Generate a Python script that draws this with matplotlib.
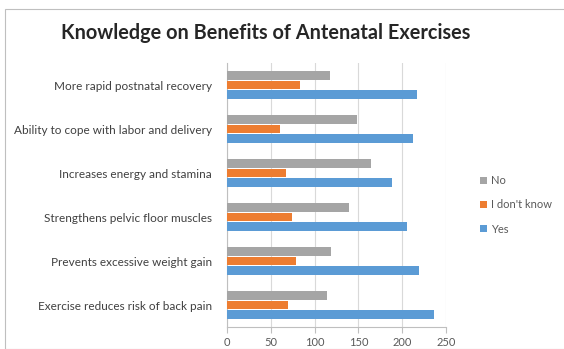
import matplotlib
matplotlib.use("Agg")
import matplotlib.pyplot as plt
import numpy as np
from matplotlib.patches import Rectangle

categories = [
    "Exercise reduces risk of back pain",
    "Prevents excessive weight gain",
    "Strengthens pelvic floor muscles",
    "Increases energy and stamina",
    "Ability to cope with labor and delivery",
    "More rapid postnatal recovery",
]
yes_vals = [236, 219, 205, 188, 212, 217]
idk_vals = [70, 79, 74, 67, 60, 83]
no_vals = [114, 119, 139, 164, 148, 118]
series_names = ["Yes", "I don't know", "No"]
colors = ["#5B9BD5", "#ED7D31", "#A5A5A5"]
xticks = [0, 50, 100, 150, 200, 250]

plt.rcParams['font.family'] = ['Lato', 'DejaVu Sans']

fig = plt.figure(figsize=(5.64, 3.49), dpi=100)
ax = fig.add_axes([227/564, 1 - 327/349, (446 - 227)/564, 264/349])

y = np.arange(len(categories))
h = 0.2
off = 0.215
bars = []
for i, (vals, name, c) in enumerate(zip([yes_vals, idk_vals, no_vals], series_names, colors)):
    b = ax.barh(y + (i - 1) * off, vals, height=h, color=c, label=name, zorder=3)
    bars.append(b)

ax.set_xlim(0, 250)
ax.set_ylim(-0.5, len(categories) - 0.5)
ax.set_xticks(xticks)
ax.set_xticklabels([str(t) for t in xticks], fontsize=8, color="#595959")
ax.set_yticks(y)
ax.set_yticklabels(categories, fontsize=8.5, color="#404040")
ax.tick_params(axis='y', length=0, pad=11)
ax.tick_params(axis='x', length=4, color="#BFBFBF", pad=3)
ax.grid(axis='x', color="#D9D9D9", linewidth=0.8, zorder=0)
for s in ["top", "right"]:
    ax.spines[s].set_visible(False)
ax.spines["left"].set_color("#BFBFBF")
ax.spines["bottom"].set_color("#BFBFBF")
ax.spines["left"].set_linewidth(0.8)
ax.spines["bottom"].set_linewidth(0.8)

handles = [bars[2], bars[1], bars[0]]
labels = ["No", "I don't know", "Yes"]
leg = fig.legend(handles, labels, loc="center left", bbox_to_anchor=(470/564, 1 - 205/349),
                 frameon=False, fontsize=8, handlelength=0.6, handleheight=0.6,
                 labelspacing=1.2, handletextpad=0.4, labelcolor="#595959")

fig.text(266/564, 1 - 33/349, "Knowledge on Benefits of Antenatal Exercises",
         ha="center", va="center", fontsize=14.3, fontweight="bold", color="#262626")

fig.patches.append(Rectangle((5/564, 0), 1, 1 - 9/349, transform=fig.transFigure,
                             fill=False, edgecolor="#BFBFBF", linewidth=0.8))

fig.savefig("out.png", dpi=100)
